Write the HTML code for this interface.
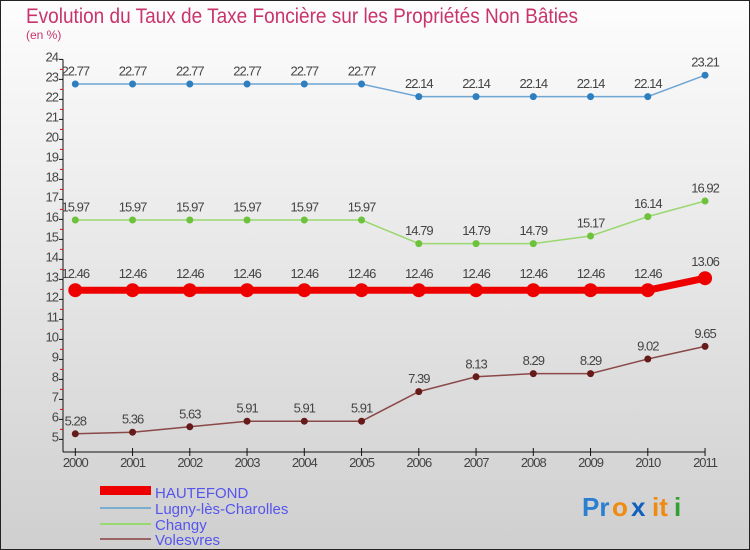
<!DOCTYPE html>
<html><head><meta charset="utf-8"><style>
body{margin:0;width:750px;height:550px;overflow:hidden}
svg{display:block;font-family:"Liberation Sans",sans-serif}
</style></head><body>
<svg id="c" width="750" height="550" viewBox="0 0 750 550">
<defs><linearGradient id="bg" x1="0" y1="0" x2="0" y2="1"><stop offset="0" stop-color="#fdfdfd"/><stop offset="1" stop-color="#cfcfcf"/></linearGradient></defs>
<rect x="0.5" y="0.5" width="749" height="549" fill="url(#bg)" stroke="#222"/>
<text x="26" y="23" font-size="21" fill="#c8346b" textLength="552" lengthAdjust="spacingAndGlyphs">Evolution du Taux de Taxe Foncière sur les Propriétés Non Bâties</text>
<text x="26" y="39" font-size="12" fill="#c8346b">(en %)</text>
<g id="axes"></g><g id="series"></g>
<g font-size="15" fill="#5555ee">
<rect x="100" y="486" width="51" height="9" fill="#ee0000"/>
<text x="155" y="498">HAUTEFOND</text>
<rect x="100" y="507" width="51" height="2" fill="#7aaed0"/>
<text x="155" y="514">Lugny-lès-Charolles</text>
<rect x="100" y="523" width="51" height="2" fill="#9ad870"/>
<text x="155" y="530">Changy</text>
<rect x="100" y="538" width="51" height="2" fill="#9a6464"/>
<text x="155" y="545">Volesvres</text>
</g>
<g font-size="26" font-weight="bold">
<text x="582" y="516" fill="#2a7fd0">Pr</text><text x="612" y="516" fill="#f08a10">o</text><text x="631" y="516" fill="#1060c0">x</text><text x="652" y="516" fill="#f08a10">it</text><text x="674" y="516" fill="#30a030">i</text>
</g>
</svg>
<script>
const years=[2000,2001,2002,2003,2004,2005,2006,2007,2008,2009,2010,2011];
const hautefond=[12.46,12.46,12.46,12.46,12.46,12.46,12.46,12.46,12.46,12.46,12.46,13.06];
const lugny=[22.77,22.77,22.77,22.77,22.77,22.77,22.14,22.14,22.14,22.14,22.14,23.21];
const changy=[15.97,15.97,15.97,15.97,15.97,15.97,14.79,14.79,14.79,15.17,16.14,16.92];
const volesvres=[5.28,5.36,5.63,5.91,5.91,5.91,7.39,8.13,8.29,8.29,9.02,9.65];
const yTicks=[5,6,7,8,9,10,11,12,13,14,15,16,17,18,19,20,21,22,23,24];
const NS="http://www.w3.org/2000/svg";
const x=i=>75.3+i*57.25;
const y=v=>59.4+(24-v)*20;
function mk(t,a,p){const e=document.createElementNS(NS,t);for(const k in a)e.setAttribute(k,a[k]);p.appendChild(e);return e;}
const ax=document.getElementById('axes');
let e=mk('line',{x1:63,y1:y(24),x2:63,y2:452,stroke:'#111'},ax);


e=mk('line',{x1:63,y1:452,x2:x(11),y2:452,stroke:'#111'},ax);


yTicks.forEach(v=>{
 mk('line',{x1:59,y1:y(v),x2:63,y2:y(v),stroke:'#111'},ax);
 if(v>5) mk('line',{x1:60,y1:y(v-0.5),x2:63,y2:y(v-0.5),stroke:'#e00'},ax);
 const t=mk('text',{x:58,y:y(v)+2,'text-anchor':'end','font-size':13,fill:'#444','letter-spacing':'-1'},ax);
 t.textContent=v;
 
 
});
years.forEach((yr,i)=>{
 mk('line',{x1:x(i),y1:448,x2:x(i),y2:456,stroke:'#111'},ax);
 const t=mk('text',{x:x(i),y:467,'text-anchor':'middle','font-size':13,fill:'#444','letter-spacing':'-1'},ax);
 t.textContent=yr;
 
 
});
const sg=document.getElementById('series');
function series(name,data,col,dot,w,r){
 const g=mk('g',{},sg);
 
 
 const p=mk('polyline',{points:data.map((v,i)=>x(i)+','+y(v)).join(' '),fill:'none',stroke:col,'stroke-width':w},g);
 
 
 data.forEach((v,i)=>{
  const c=mk('circle',{cx:x(i),cy:y(v),r:r,fill:dot},g);
  
  
  const t=mk('text',{x:x(i),y:y(v)-r-5,'text-anchor':'middle','font-size':13,fill:'#444','letter-spacing':'-1'},g);
  t.textContent=v.toFixed(2);
  
  
 });
}
series('lugny',lugny,'#6fa6d4','#2e7fc0',1.5,3.5);
series('changy',changy,'#9ad870','#6cc23a',1.5,3.5);
series('volesvres',volesvres,'#8a4848','#661a1a',1.5,3.5);
series('hautefond',hautefond,'#ee0000','#ee0000',7,7);
</script>
</body></html>
